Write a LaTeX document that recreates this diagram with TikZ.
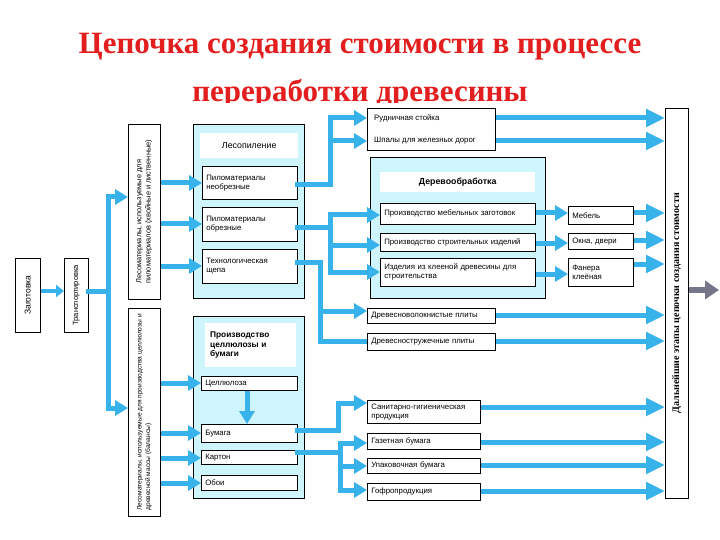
\documentclass[tikz,border=0pt]{standalone}
\usepackage{fontspec}
\setmainfont{Liberation Serif}
\setsansfont{Liberation Sans}
\usetikzlibrary{arrows.meta}
\definecolor{ablue}{RGB}{56,178,234}
\definecolor{lblue}{RGB}{206,244,252}
\definecolor{garrow}{RGB}{118,118,138}
\definecolor{tred}{RGB}{226,30,30}
\begin{document}
\begin{tikzpicture}[x=1pt,y=-1pt,
  bigbox/.style={draw=black, line width=0.6pt, fill=lblue, anchor=north west, inner sep=0pt},
  plain/.style={draw=black, line width=0.6pt, fill=white, anchor=north west, inner sep=0pt},
  box/.style={draw=black, line width=0.6pt, fill=white, anchor=north west, inner xsep=4pt, inner ysep=0pt,
    font=\sffamily\fontsize{7.8}{9}\selectfont, align=left},
  head/.style={fill=white, anchor=north west, inner xsep=5pt, inner ysep=0pt},
  rot/.style={rotate=90, inner sep=0pt, font=\sffamily\fontsize{6.6}{8}\selectfont, align=left},
  txt/.style={inner sep=0pt, anchor=west, font=\sffamily\fontsize{7.8}{9}\selectfont},
  ln/.style={draw=ablue, line width=5pt, line cap=rect},
  arr/.style={draw=ablue, line width=5pt, -{Triangle[length=13pt,width=15pt]}},
  larr/.style={draw=ablue, line width=5pt, -{Triangle[length=19pt,width=17pt]}},
  sarr/.style={draw=ablue, line width=4pt, -{Triangle[length=8pt,width=12pt]}},
  garr/.style={draw=garrow, line width=6pt, -{Triangle[length=14pt,width=18pt]}},
  ttl/.style={font=\rmfamily\bfseries\fontsize{31}{34}\selectfont, text=tred, anchor=base, inner sep=0pt}
]
\useasboundingbox (0,0) rectangle (720,540);
\fill[white] (0,0) rectangle (720,540);

% title
\node[ttl] (t1) at (360,54) {Цепочка создания стоимости в процессе};
\begin{scope}
\clip (0,60) rectangle (720,103);
\node[ttl] (t2) at (360,102) {переработки древесины};
\end{scope}

% left chain
\node[plain, minimum width=25pt, minimum height=74pt] (zag) at (15,258) {};
\node[rot, font=\sffamily\fontsize{8.5}{10}\selectfont] at (zag.center) {Заготовка};
\node[plain, minimum width=24pt, minimum height=74pt] (tr) at (64,258) {};
\node[rot, font=\sffamily\fontsize{7.5}{9}\selectfont] at (tr.center) {Транспортировка};
\node[plain, minimum width=32pt, minimum height=175pt] (lt1) at (128,124) {};
\node[rot, font=\sffamily\fontsize{7.4}{9.2}\selectfont] at (lt1.center) {Лесоматериалы, используемые для\\пиломатериалов (хвойные и лиственные)};
\node[plain, minimum width=32pt, minimum height=208pt] (lt2) at (128,308) {};
\node[rot, font=\sffamily\fontsize{6.6}{8.6}\selectfont] at (lt2.center) {Лесоматериалы, используемые для производства целлюлозы и\\древесной массы (балансы)};

% Лесопиление
\node[bigbox, minimum width=111pt, minimum height=174pt] (les) at (193,124) {};
\node[head, minimum width=98pt, minimum height=25pt, font=\sffamily\fontsize{8.8}{10}\selectfont, align=center] (lesh) at (200,133) {Лесопиление};
\node[box, minimum width=95pt, text width=87pt, minimum height=33pt] (s1) at (202,166) {Пиломатериалы\\необрезные};
\node[box, minimum width=95pt, text width=87pt, minimum height=34pt] (s2) at (202,207) {Пиломатериалы\\обрезные};
\node[box, minimum width=95pt, text width=87pt, minimum height=34pt] (s3) at (202,249) {Технологическая\\щепа};

% Производство целлюлозы и бумаги
\node[bigbox, minimum width=111pt, minimum height=182pt] (cel) at (193,316) {};
\node[head, minimum width=91pt, minimum height=44pt, text width=81pt, align=left, font=\sffamily\bfseries\fontsize{8.3}{9.6}\selectfont] (celh) at (205,323) {Производство\\целлюлозы и\\бумаги};
\node[box, minimum width=96pt, text width=88pt, minimum height=14pt] (c1) at (201,376) {Целлюлоза};
\node[box, minimum width=96pt, text width=88pt, minimum height=18pt] (c2) at (201,424) {Бумага};
\node[box, minimum width=96pt, text width=88pt, minimum height=14pt] (c3) at (201,450) {Картон};
\node[box, minimum width=96pt, text width=88pt, minimum height=15pt] (c4) at (201,475) {Обои};

% Рудничная стойка / Шпалы
\node[plain, minimum width=128pt, minimum height=42pt] (rud) at (367,108) {};
\node[txt] (r1) at (374,118) {Рудничная стойка};
\node[txt] (r2) at (374,141) {Шпалы для железных дорог};

% Деревообработка
\node[bigbox, minimum width=175pt, minimum height=141pt] (der) at (370,157) {};
\node[head, minimum width=155pt, minimum height=20pt, font=\sffamily\bfseries\fontsize{8.8}{10}\selectfont, align=center] (derh) at (380,172) {Деревообработка};
\node[box, minimum width=155pt, text width=147pt, minimum height=21pt] (d1) at (380,203) {Производство мебельных заготовок};
\node[box, minimum width=155pt, text width=147pt, minimum height=18pt] (d2) at (380,233) {Производство строительных изделий};
\node[box, minimum width=155pt, text width=147pt, minimum height=28pt] (d3) at (380,258) {Изделия из клееной древесины для\\строительства};

% products of woodworking
\node[box, minimum width=65pt, text width=57pt, minimum height=18pt] (p1) at (568,206) {Мебель};
\node[box, minimum width=65pt, text width=57pt, minimum height=16pt] (p2) at (568,233) {Окна, двери};
\node[box, minimum width=65pt, text width=57pt, minimum height=28pt] (p3) at (568,258) {Фанера\\клеёная};

% boards
\node[box, minimum width=128pt, text width=120pt, minimum height=15pt] (dv) at (367,308) {Древесноволокнистые плиты};
\node[box, minimum width=128pt, text width=120pt, minimum height=17pt] (ds) at (367,333) {Древесностружечные плиты};

% paper products
\node[box, minimum width=113pt, text width=105pt, minimum height=23pt] (q1) at (367,400) {Санитарно-гигиеническая\\продукция};
\node[box, minimum width=113pt, text width=105pt, minimum height=16pt] (q2) at (367,433) {Газетная бумага};
\node[box, minimum width=113pt, text width=105pt, minimum height=15pt] (q3) at (367,458) {Упаковочная бумага};
\node[box, minimum width=113pt, text width=105pt, minimum height=17pt] (q4) at (367,483) {Гофропродукция};

% final box
\node[plain, minimum width=23pt, minimum height=390pt] (fin) at (665,108) {};
\node[rot, font=\rmfamily\bfseries\fontsize{10}{11}\selectfont] at (fin.center) {Дальнейшие этапы цепочки создания стоимости};

% ---- connectors ----
\draw[sarr] (zag.east|-0,291) -- (tr.west|-0,291);
\draw[ln] (tr.east|-0,291) -- (108,291);
\draw[ln] (108,197) -- (108,408);
\draw[arr] (108,197) -- (lt1.west|-0,197);
\draw[arr] (108,408) -- (lt2.west|-0,408);

\draw[arr] (lt1.east|-0,183) -- (s1.west|-0,183);
\draw[arr] (lt1.east|-0,224) -- (s2.west|-0,224);
\draw[arr] (lt1.east|-0,266) -- (s3.west|-0,266);

\draw[arr] (lt2.east|-0,383) -- (c1.west|-0,383);
\draw[arr] (lt2.east|-0,433) -- (c2.west|-0,433);
\draw[arr] (lt2.east|-0,458) -- (c3.west|-0,458);
\draw[arr] (lt2.east|-0,483) -- (c4.west|-0,483);
\draw[arr] (c1.south-|247,0) -- (c2.north-|247,0);

% from Пиломатериалы необрезные
\draw[ln] (s1.east|-0,185) -- (330,185);
\draw[ln] (330,118) -- (330,185);
\draw[arr] (330,118) -- (rud.west|-0,118);
\draw[arr] (330,141) -- (rud.west|-0,141);
% from Пиломатериалы обрезные
\draw[ln] (s2.east|-0,228) -- (330,228);
\draw[ln] (330,215) -- (330,272);
\draw[arr] (330,215) -- (d1.west|-0,215);
\draw[arr] (330,245) -- (d2.west|-0,245);
\draw[arr] (330,272) -- (d3.west|-0,272);
% from Технологическая щепа
\draw[ln] (s3.east|-0,262) -- (320,262);
\draw[ln] (320,262) -- (320,341);
\draw[arr] (320,311) -- (dv.west|-0,311);
\draw[draw=ablue, line width=5pt] (317.5,341) -- (ds.west|-0,341);

% woodworking -> products
\draw[arr] (d1.east|-0,213) -- (p1.west|-0,213);
\draw[arr] (d2.east|-0,243) -- (p2.west|-0,243);
\draw[arr] (d3.east|-0,274) -- (p3.west|-0,274);

% paper branches
\draw[ln] (c2.east|-0,430) -- (338,430);
\draw[ln] (338,403) -- (338,430);
\draw[arr] (338,403) -- (q1.west|-0,403);
\draw[ln] (c3.east|-0,452) -- (340,452);
\draw[ln] (340,443) -- (340,490);
\draw[arr] (340,443) -- (q2.west|-0,443);
\draw[arr] (340,466) -- (q3.west|-0,466);
\draw[arr] (340,490) -- (q4.west|-0,490);

% to final box
\draw[larr] (rud.east|-0,118) -- (fin.west|-0,118);
\draw[larr] (rud.east|-0,141) -- (fin.west|-0,141);
\draw[larr] (p1.east|-0,213) -- (fin.west|-0,213);
\draw[larr] (p2.east|-0,240) -- (fin.west|-0,240);
\draw[larr] (p3.east|-0,264) -- (fin.west|-0,264);
\draw[larr] (dv.east|-0,315) -- (fin.west|-0,315);
\draw[larr] (ds.east|-0,341) -- (fin.west|-0,341);
\draw[larr] (q1.east|-0,407) -- (fin.west|-0,407);
\draw[larr] (q2.east|-0,442) -- (fin.west|-0,442);
\draw[larr] (q3.east|-0,465) -- (fin.west|-0,465);
\draw[larr] (q4.east|-0,491) -- (fin.west|-0,491);

\coordinate (gend) at (719,290);
\draw[garr] (fin.east|-0,290) -- (gend);
\end{tikzpicture}
\end{document}
